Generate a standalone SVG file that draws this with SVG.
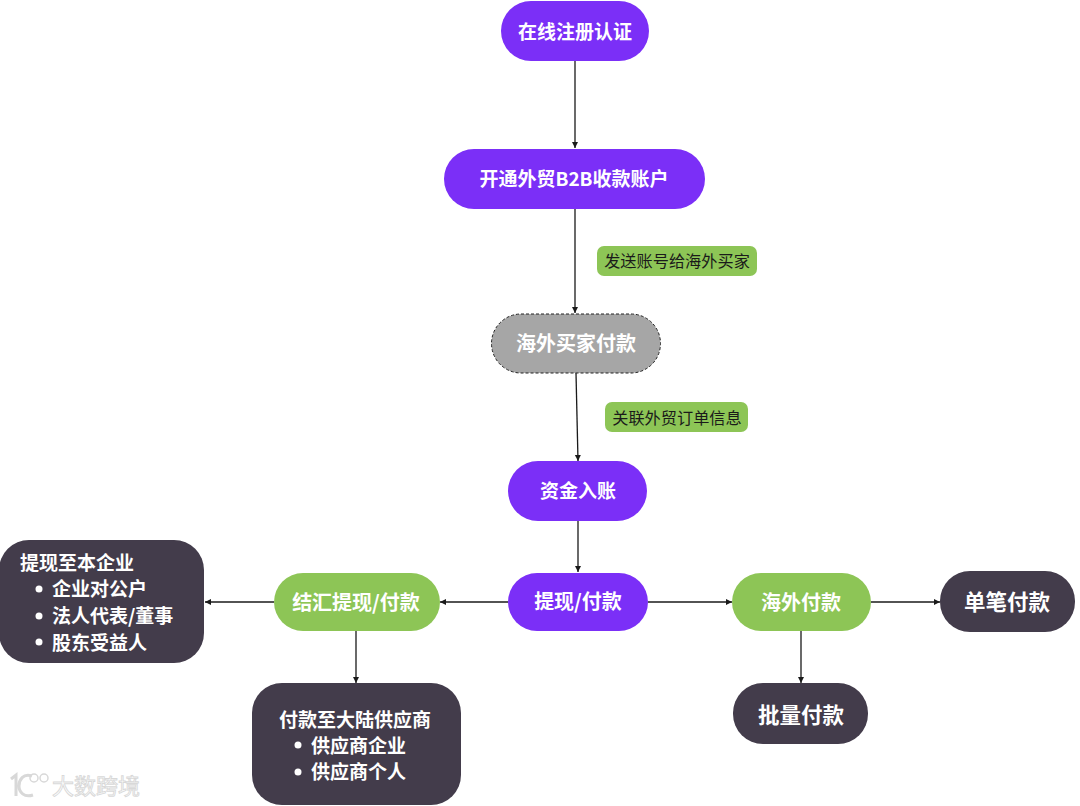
<svg xmlns="http://www.w3.org/2000/svg" width="1080" height="806" viewBox="0 0 1080 806">
<style>
text{font-family:"Noto Sans CJK SC","Noto Sans",sans-serif;font-weight:700;font-size:19px;fill:#fff}
.c{text-anchor:middle}
.b{font-size:20px}
.x{font-size:21.5px}
.p{fill:#7b2ff7}.g{fill:#8dc556}.d{fill:#433c4b}
.lab{fill:#8dc556}
.lt{font-size:16.200px;fill:#1a1a1a;font-weight:400;text-anchor:middle}
.con path{fill:none;stroke:#1a1a1a;stroke-width:1.300;marker-end:url(#a)}
.wm{font-size:22px;fill:#fff;stroke:#d8d8d8;stroke-width:.9;font-weight:400}
</style>
<defs><marker id="a" markerUnits="userSpaceOnUse" markerWidth="7" markerHeight="7" refX="6" refY="3.5" orient="auto"><path d="M0 0.5L6 3.5L0 6.5Z" fill="#1a1a1a"/></marker></defs>
<rect width="1080" height="806" fill="#fff"/>
<g class="con" id="connectors">
<path d="M575 61V148"/>
<path d="M575 209V313"/>
<path d="M576 373L578 461"/>
<path d="M578 521V572"/>
<path d="M508 602H440"/>
<path d="M274 602H205"/>
<path d="M648 602H732"/>
<path d="M871 602H940"/>
<path d="M356 631V683"/>
<path d="M801 631V683"/>
</g>
<g id="n1"><rect class="p" x="501" y="1" width="148" height="60" rx="30"/><text class="c" x="575" y="39">在线注册认证</text></g>
<g id="n2"><rect class="p" x="444" y="149" width="261" height="60" rx="30"/><text class="c" x="574" y="186">开通外贸B2B收款账户</text></g>
<g id="l1"><rect class="lab" x="597" y="246" width="160" height="30" rx="7"/><text class="lt" x="677" y="267">发送账号给海外买家</text></g>
<g id="n3"><rect x="491.500" y="314" width="169" height="59" rx="29.500" fill="#a6a6a6" stroke="#222" stroke-width="1" stroke-dasharray="3 2"/><text class="c b" x="576" y="351">海外买家付款</text></g>
<g id="l2"><rect class="lab" x="605" y="402" width="143" height="30" rx="7"/><text class="lt" x="677" y="424">关联外贸订单信息</text></g>
<g id="n4"><rect class="p" x="508" y="461" width="139" height="60" rx="30"/><text class="c" x="578" y="498">资金入账</text></g>
<g id="n5"><rect class="p" x="508" y="573" width="140" height="58" rx="29"/><text class="c b" x="578" y="609">提现/付款</text></g>
<g id="n6"><rect class="g" x="274" y="573" width="166" height="58" rx="29"/><text class="c b" x="356" y="610">结汇提现/付款</text></g>
<g id="n7"><rect class="g" x="732" y="573" width="139" height="58" rx="29"/><text class="c b" x="801" y="610">海外付款</text></g>
<g id="n8"><rect class="d" x="940" y="571" width="135" height="61" rx="30"/><text class="c x" x="1007" y="610">单笔付款</text></g>
<g id="n9"><rect class="d" x="733" y="683" width="135" height="61" rx="30"/><text class="c x" x="801" y="723">批量付款</text></g>
<g id="n10"><rect class="d" x="-1" y="540" width="205" height="123" rx="30"/>
<text x="20" y="570">提现至本企业</text>
<circle cx="39" cy="589" r="3.500" fill="#fff"/><text x="52" y="596">企业对公户</text>
<circle cx="39" cy="616" r="3.500" fill="#fff"/><text x="52" y="623">法人代表/董事</text>
<circle cx="39" cy="642" r="3.500" fill="#fff"/><text x="52" y="650">股东受益人</text></g>
<g id="n11"><rect class="d" x="252" y="683" width="209" height="122" rx="30"/>
<text x="279" y="727">付款至大陆供应商</text>
<circle cx="298" cy="745" r="3.500" fill="#fff"/><text x="311" y="753">供应商企业</text>
<circle cx="298" cy="772" r="3.500" fill="#fff"/><text x="311" y="779">供应商个人</text></g>
<g id="watermark"><path d="M11 779L16 775V796M32 776C23 773 19 780 19 786C19 792 24 798 33 795" fill="none" stroke="#d8d8d8" stroke-width="3"/><circle cx="34" cy="778" r="4" fill="none" stroke="#d8d8d8" stroke-width="1.500"/><circle cx="44" cy="778" r="4" fill="none" stroke="#d8d8d8" stroke-width="1.500"/><text class="wm" x="52" y="794">大数跨境</text></g>
</svg>
